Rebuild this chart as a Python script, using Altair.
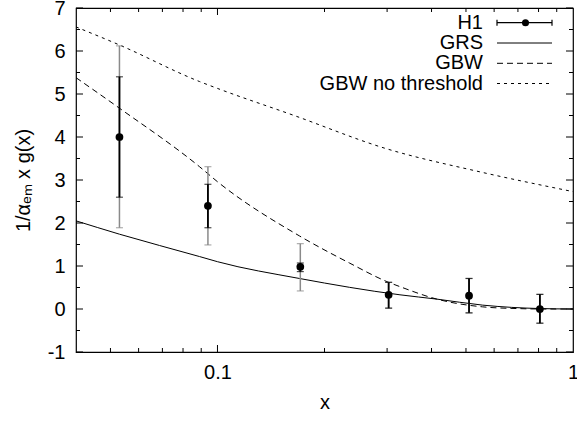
import altair as alt
import pandas as pd

# ---------------- data ----------------
x_pts = [0.053, 0.094, 0.171, 0.303, 0.51, 0.807]
y_pts = [4.00, 2.40, 0.98, 0.33, 0.31, 0.00]
outer_lo = [1.89, 1.49, 0.42, 0.02, -0.09, -0.33]
outer_hi = [6.12, 3.31, 1.52, 0.62, 0.71, 0.34]
inner_lo = [2.60, 1.89, 0.87, 0.02, -0.09, -0.33]
inner_hi = [5.40, 2.90, 1.07, 0.62, 0.71, 0.34]

grs_x = [0.04, 0.053, 0.089, 0.1, 0.17, 0.326, 0.414, 0.557, 0.81, 1.0]
grs_y = [2.05, 1.74, 1.22, 1.10, 0.71, 0.33, 0.23, 0.09, 0.01, 0.0]

gbw_x = [0.04, 0.053, 0.089, 0.1, 0.17, 0.235, 0.303, 0.326, 0.414, 0.557, 0.7, 0.81, 1.0]
gbw_y = [5.38, 4.67, 3.31, 2.96, 1.70, 1.07, 0.62, 0.52, 0.23, 0.05, 0.01, 0.0, 0.0]

nt_x = [0.04, 0.053, 0.089, 0.1, 0.163, 0.298, 0.547, 1.0]
nt_y = [6.56, 6.14, 5.29, 5.13, 4.51, 3.73, 3.19, 2.73]

legend_labels = ["H1", "GRS", "GBW", "GBW no threshold"]

x_tick_labels = [0.1, 1.0]
y_tick_labels = [-1, 0, 1, 2, 3, 4, 5, 6, 7]
x_major = [0.1]
x_minor = [0.05, 0.06, 0.07, 0.08, 0.09, 0.2, 0.3, 0.4, 0.5, 0.6, 0.7, 0.8, 0.9]
y_major = [-1, 0, 1, 2, 3, 4, 5, 6, 7]
y_minor = [-0.5, 0.5, 1.5, 2.5, 3.5, 4.5, 5.5, 6.5]

# ---------------- layout ----------------
FONT = "Liberation Sans"
W, H = 497, 344
MAJ, MIN = 7, 4

xs = alt.Scale(type="log", domain=[0.04, 1.0], nice=False)
ys = alt.Scale(domain=[-1, 7], nice=False, zero=False)

x_axis = alt.Axis(values=x_tick_labels, labelExpr="datum.value == 1 ? '1' : '0.1'",
                  title="x", ticks=False, domain=False, grid=False,
                  labelFlush=False, labelOverlap=False, labelBound=False,
                  labelPadding=10, titlePadding=10, labelFontSize=20, titleFontSize=20,
                  labelFont=FONT, titleFont=FONT, titleFontWeight="normal",
                  labelColor="black", titleColor="black")
y_axis = alt.Axis(values=y_tick_labels, labelExpr="'' + datum.value",
                  title="1/αₑₘ x g(x)", ticks=False, domain=False, grid=False,
                  labelOverlap=False, labelBound=False, labelFlush=False,
                  labelPadding=11, titlePadding=14, labelFontSize=20, titleFontSize=20,
                  labelFont=FONT, titleFont=FONT, titleFontWeight="normal",
                  labelColor="black", titleColor="black")


def X(f):
    return alt.X(f"{f}:Q", scale=xs, axis=x_axis)


def Y(f):
    return alt.Y(f"{f}:Q", scale=ys, axis=y_axis)


pts = pd.DataFrame({"x": x_pts, "y": y_pts, "olo": outer_lo, "ohi": outer_hi,
                    "ilo": inner_lo, "ihi": inner_hi})

layers = []

# curves
for cx, cy, dash in [(grs_x, grs_y, None), (gbw_x, gbw_y, [6, 4]), (nt_x, nt_y, [3, 4])]:
    df = pd.DataFrame({"x": cx, "y": cy})
    kw = dict(color="black", strokeWidth=1, interpolate="monotone", clip=True)
    if dash:
        kw["strokeDash"] = dash
    layers.append(alt.Chart(df).mark_line(**kw).encode(x=X("x"), y=Y("y")))

# error bars (outer grey, inner black)
layers.append(alt.Chart(pts).mark_rule(color="#8a8a8a", strokeWidth=1.5).encode(
    x=X("x"), y=Y("olo"), y2="ohi"))
layers.append(alt.Chart(pts).mark_tick(color="#8a8a8a", orient="horizontal", size=7, thickness=1.2).encode(
    x=X("x"), y=Y("olo")))
layers.append(alt.Chart(pts).mark_tick(color="#8a8a8a", orient="horizontal", size=7, thickness=1.2).encode(
    x=X("x"), y=Y("ohi")))
layers.append(alt.Chart(pts).mark_rule(color="black", strokeWidth=1.8).encode(
    x=X("x"), y=Y("ilo"), y2="ihi"))
layers.append(alt.Chart(pts).mark_tick(color="black", orient="horizontal", size=7, thickness=1.2).encode(
    x=X("x"), y=Y("ilo")))
layers.append(alt.Chart(pts).mark_tick(color="black", orient="horizontal", size=7, thickness=1.2).encode(
    x=X("x"), y=Y("ihi")))
layers.append(alt.Chart(pts).mark_circle(color="black", size=60, opacity=1).encode(
    x=X("x"), y=Y("y")))

# inward ticks on all four sides
ym = pd.DataFrame({"v": y_major})
yn = pd.DataFrame({"v": y_minor})
xm = pd.DataFrame({"v": x_major})
xn = pd.DataFrame({"v": x_minor})
for df, L in [(ym, MAJ), (yn, MIN)]:
    layers.append(alt.Chart(df).mark_rule(color="black", strokeWidth=1).encode(
        y=Y("v"), x=alt.value(0), x2=alt.value(L)))
    layers.append(alt.Chart(df).mark_rule(color="black", strokeWidth=1).encode(
        y=Y("v"), x=alt.value(W - L), x2=alt.value(W)))
for df, L in [(xm, MAJ), (xn, MIN)]:
    layers.append(alt.Chart(df).mark_rule(color="black", strokeWidth=1).encode(
        x=X("v"), y=alt.value(H), y2=alt.value(H - L)))
    layers.append(alt.Chart(df).mark_rule(color="black", strokeWidth=1).encode(
        x=X("v"), y=alt.value(0), y2=alt.value(L)))

# legend (inside, top right)
LX_TEXT = 407
LX0, LX1 = 421, 476
row_y = [14.7, 35.0, 55.3, 75.5]
for i, lab in enumerate(legend_labels):
    d = pd.DataFrame({"label": [lab]})
    layers.append(alt.Chart(d).mark_text(align="right", baseline="middle", font=FONT,
                                         fontSize=20, color="black").encode(
        text="label:N", x=alt.value(LX_TEXT), y=alt.value(row_y[i])))
    if i == 0:
        layers.append(alt.Chart(d).mark_rule(color="black", strokeWidth=1.2).encode(
            x=alt.value(LX0), x2=alt.value(LX1), y=alt.value(row_y[i])))
        for cxp in (LX0, LX1):
            layers.append(alt.Chart(d).mark_rule(color="black", strokeWidth=1.2).encode(
                x=alt.value(cxp), y=alt.value(row_y[i] - 3), y2=alt.value(row_y[i] + 3)))
        layers.append(alt.Chart(d).mark_circle(color="black", size=50, opacity=1).encode(
            x=alt.value((LX0 + LX1) / 2 + 1), y=alt.value(row_y[i])))
    else:
        kw = dict(color="black", strokeWidth=1)
        if i == 2:
            kw["strokeDash"] = [6, 4]
        if i == 3:
            kw["strokeDash"] = [3, 4]
        layers.append(alt.Chart(d).mark_rule(**kw).encode(
            x=alt.value(LX0), x2=alt.value(LX1), y=alt.value(row_y[i])))

chart = alt.layer(*layers).properties(
    width=W, height=H,
    autosize=alt.AutoSizeParams(type="none"),
    padding={"left": 76, "top": 8, "right": 4, "bottom": 70},
    background="white",
).configure_view(stroke="black", strokeWidth=1.2)

chart.save("out.html", embed_options={"renderer": "svg", "actions": False})
